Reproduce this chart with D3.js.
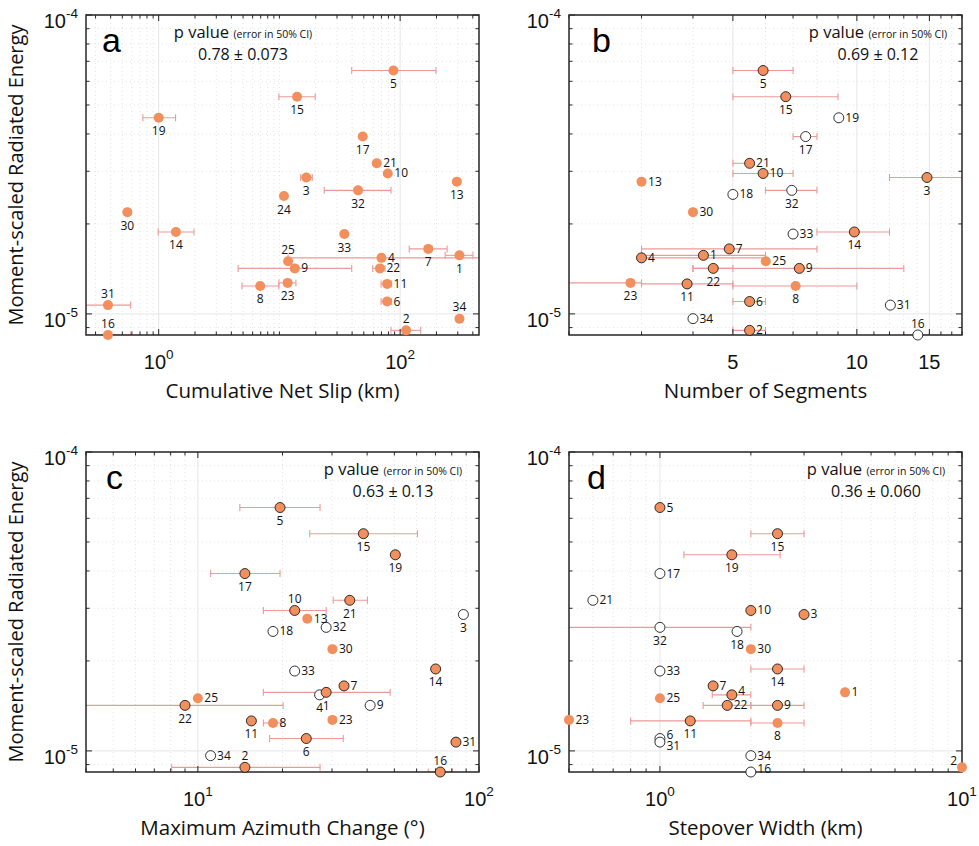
<!DOCTYPE html>
<html><head><meta charset="utf-8">
<script src="https://cdn.jsdelivr.net/npm/d3@7"></script>
<style>body{margin:0;background:#fff}</style>
</head><body><svg id="chart" width="979" height="846"></svg>
<script>
// ---------- DATA ----------
const energyIds  = [1,2,3,4,5,6,7,8,9,10,11,13,14,15,16,17,18,19,21,22,23,24,25,30,31,32,33,34];
const energyVals = [1.57e-5,8.81e-6,2.86e-5,1.54e-5,6.52e-5,1.10e-5,1.65e-5,1.24e-5,1.42e-5,2.95e-5,1.26e-5,2.77e-5,1.88e-5,5.33e-5,8.5e-6,3.92e-5,2.51e-5,4.53e-5,3.19e-5,1.42e-5,1.27e-5,2.48e-5,1.50e-5,2.19e-5,1.07e-5,2.59e-5,1.85e-5,9.64e-6];

// panel a : cumulative net slip (km)
const idsA = [5,15,19,17,21,10,3,13,32,24,30,14,33,7,1,4,25,9,22,23,11,8,6,31,34,2,16];
const xA   = [88,14.0,1.0,49,64,79,16.7,295,44.8,10.9,0.55,1.39,34.5,171,310,70,11.8,13.4,68,11.7,78,6.93,78,0.38,310,112,0.38];
const loA  = [39.7,9.9,0.74,null,null,null,15.0,null,23.5,null,null,0.99,null,119,236,11.8,null,4.55,59.3,9.9,69.5,4.9,69.5,0.2,null,84,0.2];
const hiA  = [198,19.8,1.38,null,null,null,18.7,null,84,null,null,1.96,null,245,401,900,null,39.7,75,13.7,85,9.9,85,0.586,null,148,0.586];
const typeA= ['f','f','f','f','f','f','f','f','f','f','f','f','f','f','f','f','f','f','f','f','f','f','f','f','f','f','f'];
const labA = ['b','b','b','b','r','r','b','b','b','b','b','b','b','b','b','r','a','r','r','b','r','b','r','a','a','a','a'];

// panel b : number of segments
const idsB = [5,15,19,17,21,10,3,13,18,32,30,33,14,7,4,1,25,22,9,23,11,8,6,31,34,2,16];
const xB   = [5.92,6.72,9.04,7.51,5.49,5.92,14.8,3,5,6.95,4,7.0,9.86,4.9,3,4.24,6.01,4.48,7.25,2.82,3.87,7.1,5.49,12.06,4,5.49,14.06];
const loB  = [5,5,null,7,5,5,12,null,null,6,null,null,8,3,3,3,null,4,4,1.5,3,5,5,null,null,5,13];
const hiB  = [7,9,null,8,5.49,7,20,null,null,8,null,null,12,8,6,6,null,5,13,3,5,10,6,null,null,6,15];
const typeB= ['o','o','e','e','o','o','o','f','e','e','f','e','o','o','o','o','f','o','o','f','o','f','o','e','e','o','e'];
const labB = ['b','b','r','b','r','r','b','r','r','b','r','r','b','r','r','r','r','b','r','b','b','b','r','r','r','r','a'];

// panel c : maximum azimuth change (deg)
const idsC = [5,15,19,17,10,21,13,3,18,32,30,33,14,7,4,1,25,22,9,23,11,8,6,31,34,2,16];
const xC   = [19.6,38.8,50.4,14.7,22.1,34.7,24.5,88,18.5,28.6,30.1,22.1,70.1,33.1,27.1,28.6,10,9.0,41,30.1,15.5,18.5,24.3,82.8,11.1,14.7,72.8];
const loC  = [14.1,25,null,11.1,17.1,30.3,null,null,null,null,null,null,null,null,null,17.1,null,2,null,null,null,17.1,18,null,null,8.07,66];
const hiC  = [27.2,60.4,null,19.6,28.6,40.1,null,null,null,null,null,null,null,null,null,48.3,null,20.1,null,null,null,19.7,32.9,null,null,27.2,80.4];
const typeC= ['o','o','o','o','o','o','f','e','e','e','f','e','o','o','e','o','f','o','e','f','o','f','o','o','e','o','o'];
const labC = ['b','b','b','b','a','b','r','b','r','r','r','r','b','r','b','b','r','b','r','r','b','r','b','r','r','a','a'];

// panel d : stepover width (km)
const idsD = [5,15,19,17,21,10,3,32,18,30,33,14,7,4,1,25,22,9,23,11,8,6,31,34,16,2];
const xD   = [1,2.45,1.73,1,0.6,2,3,1,1.8,2,1,2.45,1.5,1.73,4.1,1,1.67,2.45,0.5,1.26,2.45,1,1,2,2,10];
const loD  = [null,2,1.2,null,null,null,null,0.3,null,null,null,2,null,1.49,null,null,1.39,2,null,0.8,2,null,null,null,null,null];
const hiD  = [null,3,2.5,null,null,null,null,2,null,null,null,3,null,2,null,null,2,3,null,2,3,null,null,null,null,null];
const typeD= ['o','o','o','e','e','o','o','e','e','f','e','o','o','o','f','f','o','o','f','o','f','e','e','e','e','f'];
const labD = ['r','b','b','r','r','r','r','b','b','r','r','b','r','ru','r','r','r','r','r','b','b','ru','rd','r','ru','l'];

const pValues = ['0.78 \u00B1 0.073','0.69 \u00B1 0.12','0.63 \u00B1 0.13','0.36 \u00B1 0.060'];
const xTitles = ['Cumulative Net Slip (km)','Number of Segments','Maximum Azimuth Change (\u00B0)','Stepover Width (km)'];
const letters = ['a','b','c','d'];
const yTitle = 'Moment-scaled Radiated Energy';

// ---------- DRAW ----------
const energy = new Map(energyIds.map((d,i)=>[d,energyVals[i]]));
const svg = d3.select('#chart');
const W = 393, H = 320;
const ORANGE = '#F38F5C', ERR = '#EC9A98', AX = '#262626';
const FONT = "'Open Sans', sans-serif", TFONT = "'Liberation Sans', Arial, sans-serif";

const panels = [
  {left:86,  top:15,  xDom:[0.25,450], major:[1,100],  pow:true,  ids:idsA,x:xA,lo:loA,hi:hiA,type:typeA,lab:labA, letterDx:16, pcx:243},
  {left:569, top:15,  xDom:[2,18],     major:[5,10,15],pow:false, ids:idsB,x:xB,lo:loB,hi:hiB,type:typeB,lab:labB, letterDx:23, pcx:878},
  {left:86,  top:452, xDom:[4,100],    major:[10,100], pow:true,  ids:idsC,x:xC,lo:loC,hi:hiC,type:typeC,lab:labC, letterDx:20, pcx:393},
  {left:569, top:452, xDom:[0.5,10],   major:[1,10],   pow:true,  ids:idsD,x:xD,lo:loD,hi:hiD,type:typeD,lab:labD, letterDx:18, pcx:876}
];

panels.forEach((p,pi)=>{
  const g = svg.append('g');
  const x = d3.scaleLog().domain(p.xDom).range([p.left, p.left+W]);
  const y = d3.scaleLog().domain([8.5e-6,1e-4]).range([p.top+H, p.top]);
  const bottom = p.top+H, right = p.left+W;

  const xMinor = pi===1 ? d3.range(2,19) : x.ticks().filter(v=>v>=p.xDom[0]&&v<=p.xDom[1]);
  const yTicks = y.ticks();
  const yMajor = [1e-5,1e-4];
  const isMajX = v => p.major.some(m=>Math.abs(m-v)/m<1e-6);
  const isMajY = v => yMajor.some(m=>Math.abs(m-v)/m<1e-6);

  // grid
  const grid = g.append('g');
  xMinor.forEach(v=>{
    const maj = isMajX(v);
    grid.append('line').attr('x1',x(v)).attr('x2',x(v)).attr('y1',p.top).attr('y2',bottom)
      .attr('stroke', maj?'#e6e6e6':'#e4e4e4').attr('stroke-width',1)
      .attr('stroke-dasharray', maj?null:'1,3');
  });
  yTicks.forEach(v=>{
    const maj = isMajY(v);
    grid.append('line').attr('x1',p.left).attr('x2',right).attr('y1',y(v)).attr('y2',y(v))
      .attr('stroke', maj?'#e6e6e6':'#e4e4e4').attr('stroke-width',1)
      .attr('stroke-dasharray', maj?null:'1,3');
  });

  // error bars (clipped)
  const cid = 'clip'+pi;
  svg.append('clipPath').attr('id',cid).append('rect').attr('x',p.left).attr('y',p.top).attr('width',W).attr('height',H);
  const eb = g.append('g').attr('clip-path',`url(#${cid})`).attr('stroke',ERR).attr('stroke-width',1.1).attr('fill','none');
  p.ids.forEach((id,i)=>{
    if(p.lo[i]==null) return;
    const yy = y(energy.get(id)), x1 = x(p.lo[i]), x2 = x(p.hi[i]);
    eb.append('line').attr('x1',x1).attr('x2',x2).attr('y1',yy).attr('y2',yy);
    eb.append('line').attr('x1',x1).attr('x2',x1).attr('y1',yy-3.5).attr('y2',yy+3.5);
    eb.append('line').attr('x1',x2).attr('x2',x2).attr('y1',yy-3.5).attr('y2',yy+3.5);
  });

  // box + ticks
  g.append('rect').attr('x',p.left).attr('y',p.top).attr('width',W).attr('height',H)
    .attr('fill','none').attr('stroke',AX).attr('stroke-width',1.5);
  const tk = g.append('g').attr('stroke',AX).attr('stroke-width',1);
  xMinor.forEach(v=>{
    const L = isMajX(v)?6:3.5, xx=x(v);
    tk.append('line').attr('x1',xx).attr('x2',xx).attr('y1',bottom).attr('y2',bottom-L);
    tk.append('line').attr('x1',xx).attr('x2',xx).attr('y1',p.top).attr('y2',p.top+L);
  });
  yTicks.forEach(v=>{
    const L = isMajY(v)?6:3.5, yy=y(v);
    tk.append('line').attr('x1',p.left).attr('x2',p.left+L).attr('y1',yy).attr('y2',yy);
    tk.append('line').attr('x1',right).attr('x2',right-L).attr('y1',yy).attr('y2',yy);
  });

  // x tick labels
  p.major.forEach(v=>{
    const t = g.append('text').attr('x',x(v)).attr('y',bottom+34).attr('text-anchor','middle')
      .attr('font-family',TFONT).attr('font-size',20).attr('fill','#111');
    if(p.pow){
      t.append('tspan').text('10');
      t.append('tspan').attr('dy',-10).attr('font-size',13.5).text(Math.round(Math.log10(v)));
    } else t.text(v);
  });
  // y tick labels
  yMajor.forEach(v=>{
    const t = g.append('text').attr('x',p.left-8).attr('y',y(v)+13).attr('text-anchor','end')
      .attr('font-family',TFONT).attr('font-size',20).attr('fill','#111');
    t.append('tspan').text('10');
    t.append('tspan').attr('dy',-10).attr('font-size',13.5).text(Math.round(Math.log10(v)));
  });

  // axis titles
  g.append('text').attr('x',p.left+W/2).attr('y',bottom+63).attr('text-anchor','middle')
    .attr('font-family',FONT).attr('font-size',20.5).attr('fill','#111').text(xTitles[pi]);
  if(pi%2===0){
    g.append('text').attr('transform',`translate(23,${p.top+H/2}) rotate(-90)`).attr('text-anchor','middle')
      .attr('font-family',FONT).attr('font-size',20).attr('fill','#111').text(yTitle);
  }

  // letter
  g.append('text').attr('x',p.left+p.letterDx).attr('y',p.top+36.5)
    .attr('font-family',TFONT).attr('font-size',34).attr('fill','#000').text(letters[pi]);

  // p value
  const t1 = g.append('text').attr('x',p.pcx).attr('y',p.top+23).attr('text-anchor','middle')
    .attr('font-family',FONT).attr('fill','#111');
  t1.append('tspan').attr('font-size',16.5).text('p value ');
  t1.append('tspan').attr('font-size',10.5).text('(error in 50% CI)');
  g.append('text').attr('x',p.pcx).attr('y',p.top+44.5).attr('text-anchor','middle')
    .attr('font-family',FONT).attr('font-size',16).attr('fill','#111').text(pValues[pi]);

  // markers
  const mk = g.append('g');
  p.ids.forEach((id,i)=>{
    const tp = p.type[i];
    mk.append('circle').attr('cx',x(p.x[i])).attr('cy',y(energy.get(id))).attr('r',5)
      .attr('fill', tp==='e'?'#fff':ORANGE)
      .attr('stroke', tp==='f'?'none':'#1a1a1a').attr('stroke-width',0.9);
  });
  // labels
  const lb = g.append('g').attr('font-family',FONT).attr('font-size',12).attr('fill','#111');
  p.ids.forEach((id,i)=>{
    const cx = x(p.x[i]), cy = y(energy.get(id)), s = p.lab[i];
    let tx=cx, ty=cy, anc='middle';
    if(s==='b'){ ty=cy+17.5; }
    else if(s==='a'){ ty=cy-7.5; }
    else if(s==='r'){ tx=cx+6.5; ty=cy+4; anc='start'; }
    else if(s==='ru'){ tx=cx+6.5; ty=cy+0.5; anc='start'; }
    else if(s==='rd'){ tx=cx+6.5; ty=cy+7.5; anc='start'; }
    else if(s==='l'){ tx=cx-5; ty=cy-2; anc='end'; }
    lb.append('text').attr('x',tx).attr('y',ty).attr('text-anchor',anc).text(id);
  });
});
</script>
</body></html>
